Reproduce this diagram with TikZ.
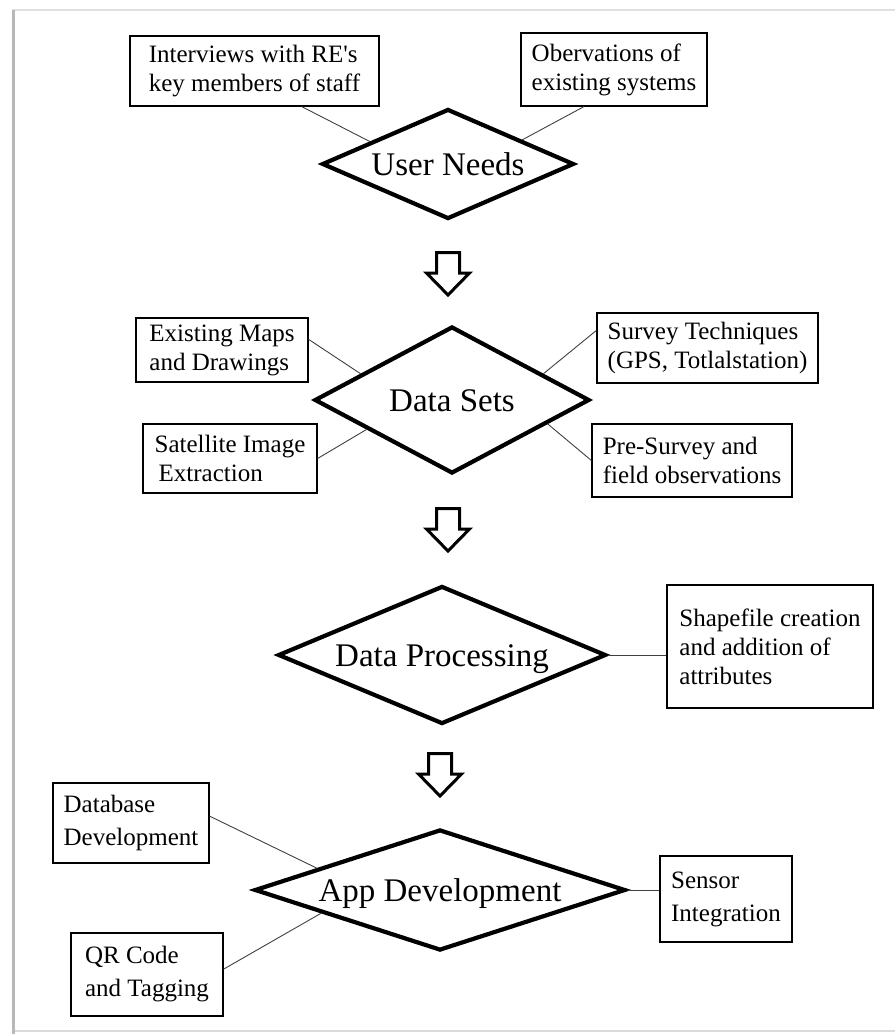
\documentclass[tikz,border=0pt]{standalone}
\usepackage{fontspec}
\setmainfont{Liberation Serif}
\usepackage{tikz}
\usetikzlibrary{shapes.geometric}
\tikzset{
  dec/.style={diamond, draw, line width=4.2pt, aspect=2.5, inner sep=0pt,
              font=\fontsize{33}{37}\selectfont, text height=22pt, text depth=0pt},
  infobox/.style={rectangle, draw, line width=1.2pt, align=left, inner sep=0pt,
                  font=\fontsize{25}{29}\selectfont},
  widebox/.style={infobox, font=\fontsize{25}{33}\selectfont},
  ln/.style={draw=black!75, line width=0.9pt},
  hollowarr/.pic={
    \draw[line width=3pt, fill=white] (-11.5,1.5) -- (11.5,1.5) -- (11.5,22) -- (21.5,22)
      -- (0,44) -- (-21.5,22) -- (-11.5,22) -- cycle;
  },
}
\begin{document}
\begin{tikzpicture}[x=1pt, y=-1pt]
\useasboundingbox (0,0) rectangle (895,1034);
% frame
\draw[black!12, line width=1.5pt] (12,10) -- (895,10);
\draw[black!14, line width=1.5pt] (12,1031) -- (895,1031);
\draw[black!28, line width=3pt] (13,10) -- (13,1034);
% steps
\node[dec, minimum width=252pt, minimum height=110pt] (userneeds) at (448,164) {User Needs};
\node[dec, minimum width=275pt, minimum height=147pt] (datasets) at (452,400) {Data Sets};
\node[dec, minimum width=328pt, minimum height=138pt] (dataproc) at (442,655) {Data Processing};
\node[dec, minimum width=371pt, minimum height=121pt] (appdev) at (440,890) {App Development};
% inputs
\node[infobox, minimum width=249pt, minimum height=70pt] (interviews) at (254.5,71) {Interviews with RE\textquotesingle s\\key members of staff};
\node[infobox, minimum width=186pt, minimum height=73pt] (obs) at (614,69.5) {Obervations of\\existing systems};
\node[infobox, minimum width=172pt, minimum height=64pt] (maps) at (222,350) {Existing Maps\\and Drawings};
\node[infobox, minimum width=221pt, minimum height=70pt] (survey) at (707.5,348) {Survey Techniques\\(GPS, Totlalstation)};
\node[infobox, minimum width=174pt, minimum height=69pt] (satellite) at (230,458.5) {Satellite Image\\\hspace*{4pt}Extraction};
\node[infobox, minimum width=200pt, minimum height=73pt] (presurvey) at (692,460.5) {Pre-Survey and\\field observations};
\node[infobox, minimum width=206pt, minimum height=123pt] (shapefile) at (770,646.5) {Shapefile creation\\and addition of\\attributes};
\node[widebox, minimum width=156pt, minimum height=80pt] (database) at (131,823) {Database\\Development};
\node[widebox, minimum width=132pt, minimum height=86pt] (sensor) at (726,899) {Sensor\\Integration};
\node[widebox, minimum width=152pt, minimum height=83pt] (qr) at (147,974.5) {QR Code\\and Tagging};
% links
\draw[ln] (interviews.-37.6) -- (userneeds.164.5);
\draw[ln] (obs.231.5) -- (userneeds.18.6);
\draw[ln] (maps.7.9) -- (datasets.164.1);
\draw[ln] (satellite.0) -- (datasets.199.6);
\draw[ln] (survey.171.8) -- (datasets.16.8);
\draw[ln] (presurvey.180) -- (datasets.-14.9);
\draw[ln] (dataproc.east) -- (dataproc.east -| shapefile.west);
\draw[ln] (database.5.9) -- (appdev.170.6);
\draw[ln] (qr.4.9) -- (appdev.191.3);
\draw[ln] (appdev.east) -- (appdev.east -| sensor.west);
% flow
\pic at (448,251) {hollowarr};
\pic at (448,507) {hollowarr};
\pic at (440,752) {hollowarr};
\end{tikzpicture}
\end{document}
